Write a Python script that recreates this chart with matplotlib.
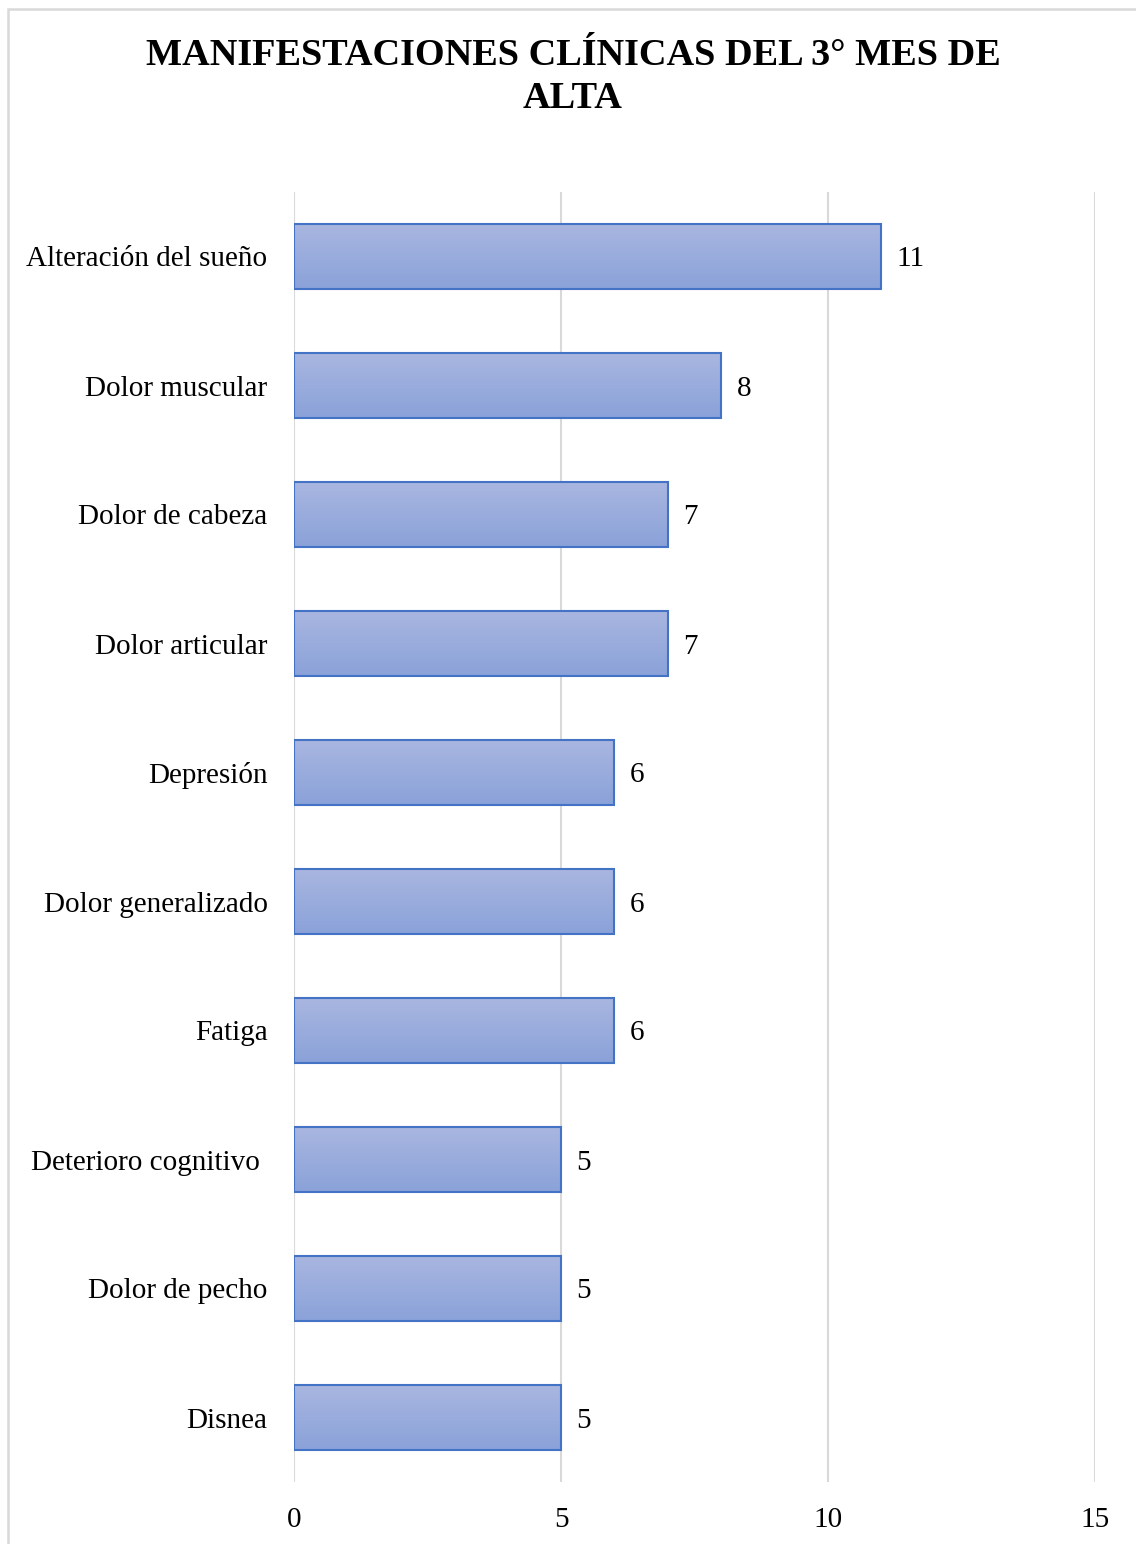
import matplotlib.pyplot as plt
import numpy as np
from matplotlib.patches import Rectangle
from matplotlib.colors import LinearSegmentedColormap

# Data
categorias = ['Alteración del sueño', 'Dolor muscular', 'Dolor de cabeza', 'Dolor articular',
              'Depresión', 'Dolor generalizado', 'Fatiga', 'Deterioro cognitivo ',
              'Dolor de pecho', 'Disnea']
valores = [11, 8, 7, 7, 6, 6, 6, 5, 5, 5]
xticks = [0, 5, 10, 15]

plt.rcParams['font.family'] = ['Liberation Serif', 'DejaVu Serif']

fig = plt.figure(figsize=(11.36, 15.44), dpi=100)
W, H = 1136, 1544

# outer frame (cropped on right and bottom)
fig.patches.append(Rectangle((8 / W, -0.1), 1.2, 1 - 9 / H + 0.1, transform=fig.transFigure,
                             fill=False, edgecolor='#D9D9D9', linewidth=1.8))

ax = fig.add_axes([294 / W, 1 - 1482 / H, (1095 - 294) / W, (1482 - 192) / H])

y = np.arange(len(categorias))
bars = ax.barh(y, valores, height=0.5, color='none', edgecolor='#4472C4', linewidth=1.5, zorder=3)

# vertical gradient inside each bar
grad = np.linspace(0, 1, 256).reshape(-1, 1)
cmap = LinearSegmentedColormap.from_list('g', ['#A9B6E0', '#8AA2D9'])
for b in bars:
    x0, y0 = b.get_x(), b.get_y()
    w, h = b.get_width(), b.get_height()
    im = ax.imshow(grad, cmap=cmap, aspect='auto', extent=(x0, x0 + w, y0 + h, y0),
                   origin='upper', zorder=2)
    im.set_clip_path(b)

etiquetas = ax.bar_label(bars, labels=[str(v) for v in valores], padding=11, fontsize=21, color='#000000')
for t in etiquetas:
    t.set_va('center_baseline')

ax.set_xlim(0, 15)
ax.set_ylim(len(categorias) - 0.5, -0.5)
ax.set_yticks(y)
ax.set_yticklabels(categorias, fontsize=21)
ax.set_xticks(xticks)
ax.set_xticklabels([str(t) for t in xticks], fontsize=21)
ax.tick_params(axis='both', length=0)
ax.tick_params(axis='y', pad=19)
ax.tick_params(axis='x', pad=18)
ax.grid(axis='x', color='#D9D9D9', linewidth=1.5, zorder=0)
ax.set_axisbelow(True)
for s in ax.spines.values():
    s.set_visible(False)

fig.text(573 / W, 1 - 77 / H, 'MANIFESTACIONES CLÍNICAS DEL 3° MES DE\nALTA', ha='center', va='center',
         fontsize=27.5, fontweight='bold', linespacing=1.3)

fig.savefig('out.png', dpi=100)
